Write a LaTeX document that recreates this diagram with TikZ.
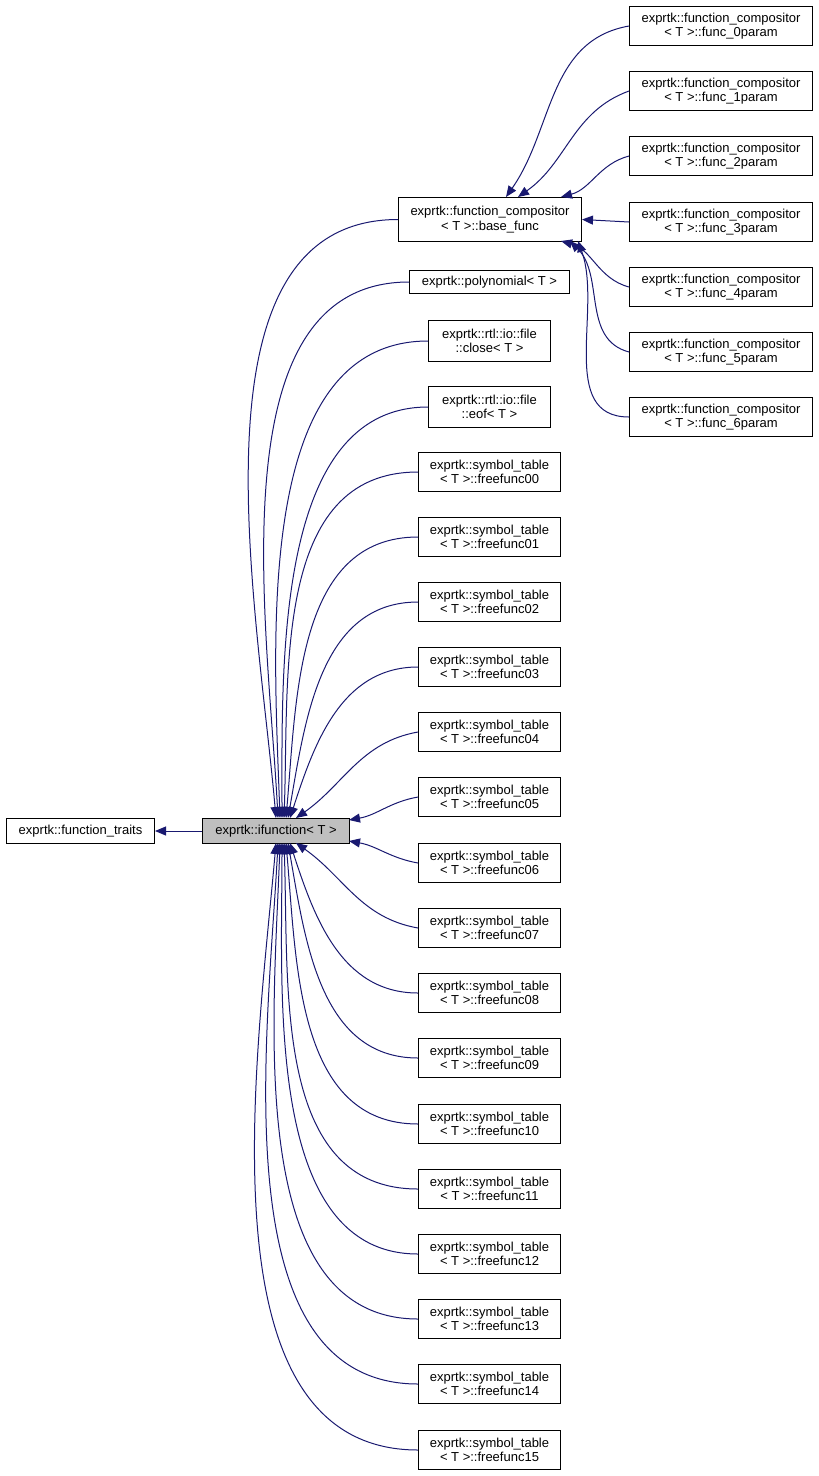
\documentclass[tikz,border=0pt]{standalone}
\usepackage{fontspec}
\setmainfont{Liberation Sans}
\usetikzlibrary{arrows.meta}
\definecolor{navy}{HTML}{191970}
\begin{document}
\begin{tikzpicture}[x=1pt,y=-1pt,line width=1pt,
 box/.style={draw,fill=white,inner sep=0pt,font=\fontsize{13}{14.5}\selectfont,align=center,anchor=north west},
 edge/.style={draw=navy,line width=1pt,{Triangle[length=11pt,width=9pt,fill=navy]}-}]
\useasboundingbox (0,0) rectangle (819,1476);
\node[box,minimum width=148,minimum height=25] (ft) at (6,818) {exprtk::function\_traits};
\node[box,minimum width=147,minimum height=25,fill={rgb,255:red,191;green,191;blue,191}] (if) at (202,818) {exprtk::ifunction< T >};
\node[box,minimum width=183,minimum height=44] (bf) at (398,197) {exprtk::function\_compositor\\< T >::base\_func};
\node[box,minimum width=160,minimum height=23] (poly) at (409,270) {exprtk::polynomial< T >};
\node[box,minimum width=122,minimum height=41] (close) at (428,320) {exprtk::rtl::io::file\\::close< T >};
\node[box,minimum width=122,minimum height=41] (eof) at (428,386) {exprtk::rtl::io::file\\::eof< T >};
\foreach \i/\y in {00/452,01/517,02/582,03/647,04/712,05/777,06/843,07/908,08/973,09/1038,10/1104,11/1169,12/1234,13/1299,14/1364,15/1430}
  \node[box,minimum width=142,minimum height=39] (f\i) at (418,\y) {exprtk::symbol\_table\\< T >::freefunc\i};
\foreach \i/\y in {0/6,1/71,2/136,3/202,4/267,5/332,6/397}
  \node[box,minimum width=183,minimum height=39] (p\i) at (629,\y) {exprtk::function\_compositor\\< T >::func\_\i param};
\draw[edge] (ft.east) -- (if.west);
\draw[edge] (506,197) to[out=55,in=190] (p0.west);
\draw[edge] (518,197) to[out=35,in=200] (p1.west);
\draw[edge] (561,197) to[out=15,in=195] (p2.west);
\draw[edge] (bf.east) -- (p3.west);
\draw[edge] (561,241) to[out=-15,in=165] (p4.west);
\draw[edge] (570,241) to[out=-45,in=165] (p5.west);
\draw[edge] (578,241) to[out=-70,in=180] (p6.west);
\draw[edge] (276,818) to[out=95,in=180,looseness=0.9] (bf.west);
\draw[edge] (278,818) to[out=93,in=180,looseness=0.9] (poly.west);
\draw[edge] (280,818) to[out=92,in=180,looseness=0.9] (close.west);
\draw[edge] (282,818) to[out=90,in=180,looseness=0.9] (eof.west);
\draw[edge] (284,818) to[out=88,in=180] (f00.west);
\draw[edge] (286,818) to[out=85,in=180] (f01.west);
\draw[edge] (288,818) to[out=80,in=180] (f02.west);
\draw[edge] (290,818) to[out=72,in=180] (f03.west);
\draw[edge] (296,818) to[out=35,in=190] (f04.west);
\draw[edge] (349,820) to[out=10,in=190] (f05.west);
\draw[edge] (349,841) to[out=-10,in=170] (f06.west);
\draw[edge] (296,843) to[out=-35,in=170] (f07.west);
\draw[edge] (290,843) to[out=-72,in=180] (f08.west);
\draw[edge] (288,843) to[out=-80,in=180] (f09.west);
\draw[edge] (286,843) to[out=-85,in=180] (f10.west);
\draw[edge] (284,843) to[out=-88,in=180] (f11.west);
\draw[edge] (282,843) to[out=-90,in=180,looseness=0.9] (f12.west);
\draw[edge] (280,843) to[out=-92,in=180,looseness=0.9] (f13.west);
\draw[edge] (278,843) to[out=-93,in=180,looseness=0.9] (f14.west);
\draw[edge] (276,843) to[out=-95,in=180,looseness=0.9] (f15.west);
\end{tikzpicture}
\end{document}
